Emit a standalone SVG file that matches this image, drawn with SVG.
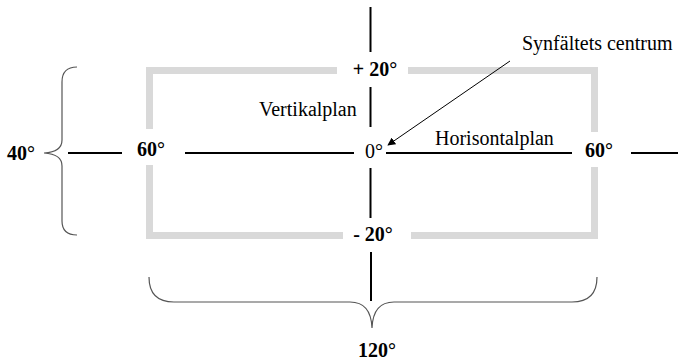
<svg xmlns="http://www.w3.org/2000/svg" width="678" height="361" viewBox="0 0 678 361">
<style>
.frame{fill:none;stroke:#d9d9d9;stroke-width:7;stroke-linecap:butt}
.ax{stroke:#000;stroke-width:2;fill:none}
.brace{fill:none;stroke:#555;stroke-width:1.2}
.t{font-family:"Liberation Serif","Times New Roman",serif;font-size:20px;fill:#000}
.b{font-weight:bold}
.m{text-anchor:middle}
</style>
<defs>
<marker id="ah" viewBox="0 0 10 10" refX="9" refY="5" markerWidth="8" markerHeight="8" orient="auto" markerUnits="userSpaceOnUse">
<path d="M0,0 L10,5 L0,10 z" fill="#000"/>
</marker>
</defs>
<g id="frame">
<path class="frame" d="M149.5,129 V70.5 H337"/>
<path class="frame" d="M408,70.5 H594.5 V132"/>
<path class="frame" d="M594.5,167 V235.5 H411"/>
<path class="frame" d="M343,235.5 H149.5 V165"/>
</g>
<g id="connectors">
<line class="ax" x1="370.5" y1="7" x2="370.5" y2="52"/>
<line class="ax" x1="370.5" y1="87" x2="370.5" y2="127"/>
<line class="ax" x1="370.5" y1="168" x2="370.5" y2="218"/>
<line class="ax" x1="371" y1="252" x2="371" y2="301"/>
<line class="ax" x1="68" y1="153" x2="122" y2="153"/>
<line class="ax" x1="185" y1="153" x2="354" y2="153"/>
<line class="ax" x1="386" y1="153" x2="572" y2="153"/>
<line class="ax" x1="631" y1="153" x2="678" y2="153"/>
<line x1="510" y1="61" x2="388" y2="145" stroke="#000" stroke-width="1" marker-end="url(#ah)"/>
<path class="brace" d="M77,67 Q62,67 62,82 L62,140 Q62,152 44,153 Q62,154 62,166 L62,221 Q62,235 77,235"/>
<path class="brace" d="M149,277 Q149,302 174,302 L350,302 Q371,302 372,328 Q373,302 394,302 L572,302 Q597,302 597,277"/>
</g>
<g id="labels">
<text class="t b m" x="375" y="76">+ 20°</text>
<text class="t b m" x="373" y="241">- 20°</text>
<text class="t b m" x="151" y="156">60°</text>
<text class="t b m" x="599" y="157">60°</text>
<text class="t b m" x="21" y="160">40°</text>
<text class="t b m" x="377" y="357">120°</text>
<text class="t m" x="374" y="158">0°</text>
<text class="t" x="259" y="116">Vertikalplan</text>
<text class="t" x="435" y="145">Horisontalplan</text>
<text class="t" x="522" y="50">Synfältets centrum</text>
</g>
</svg>
